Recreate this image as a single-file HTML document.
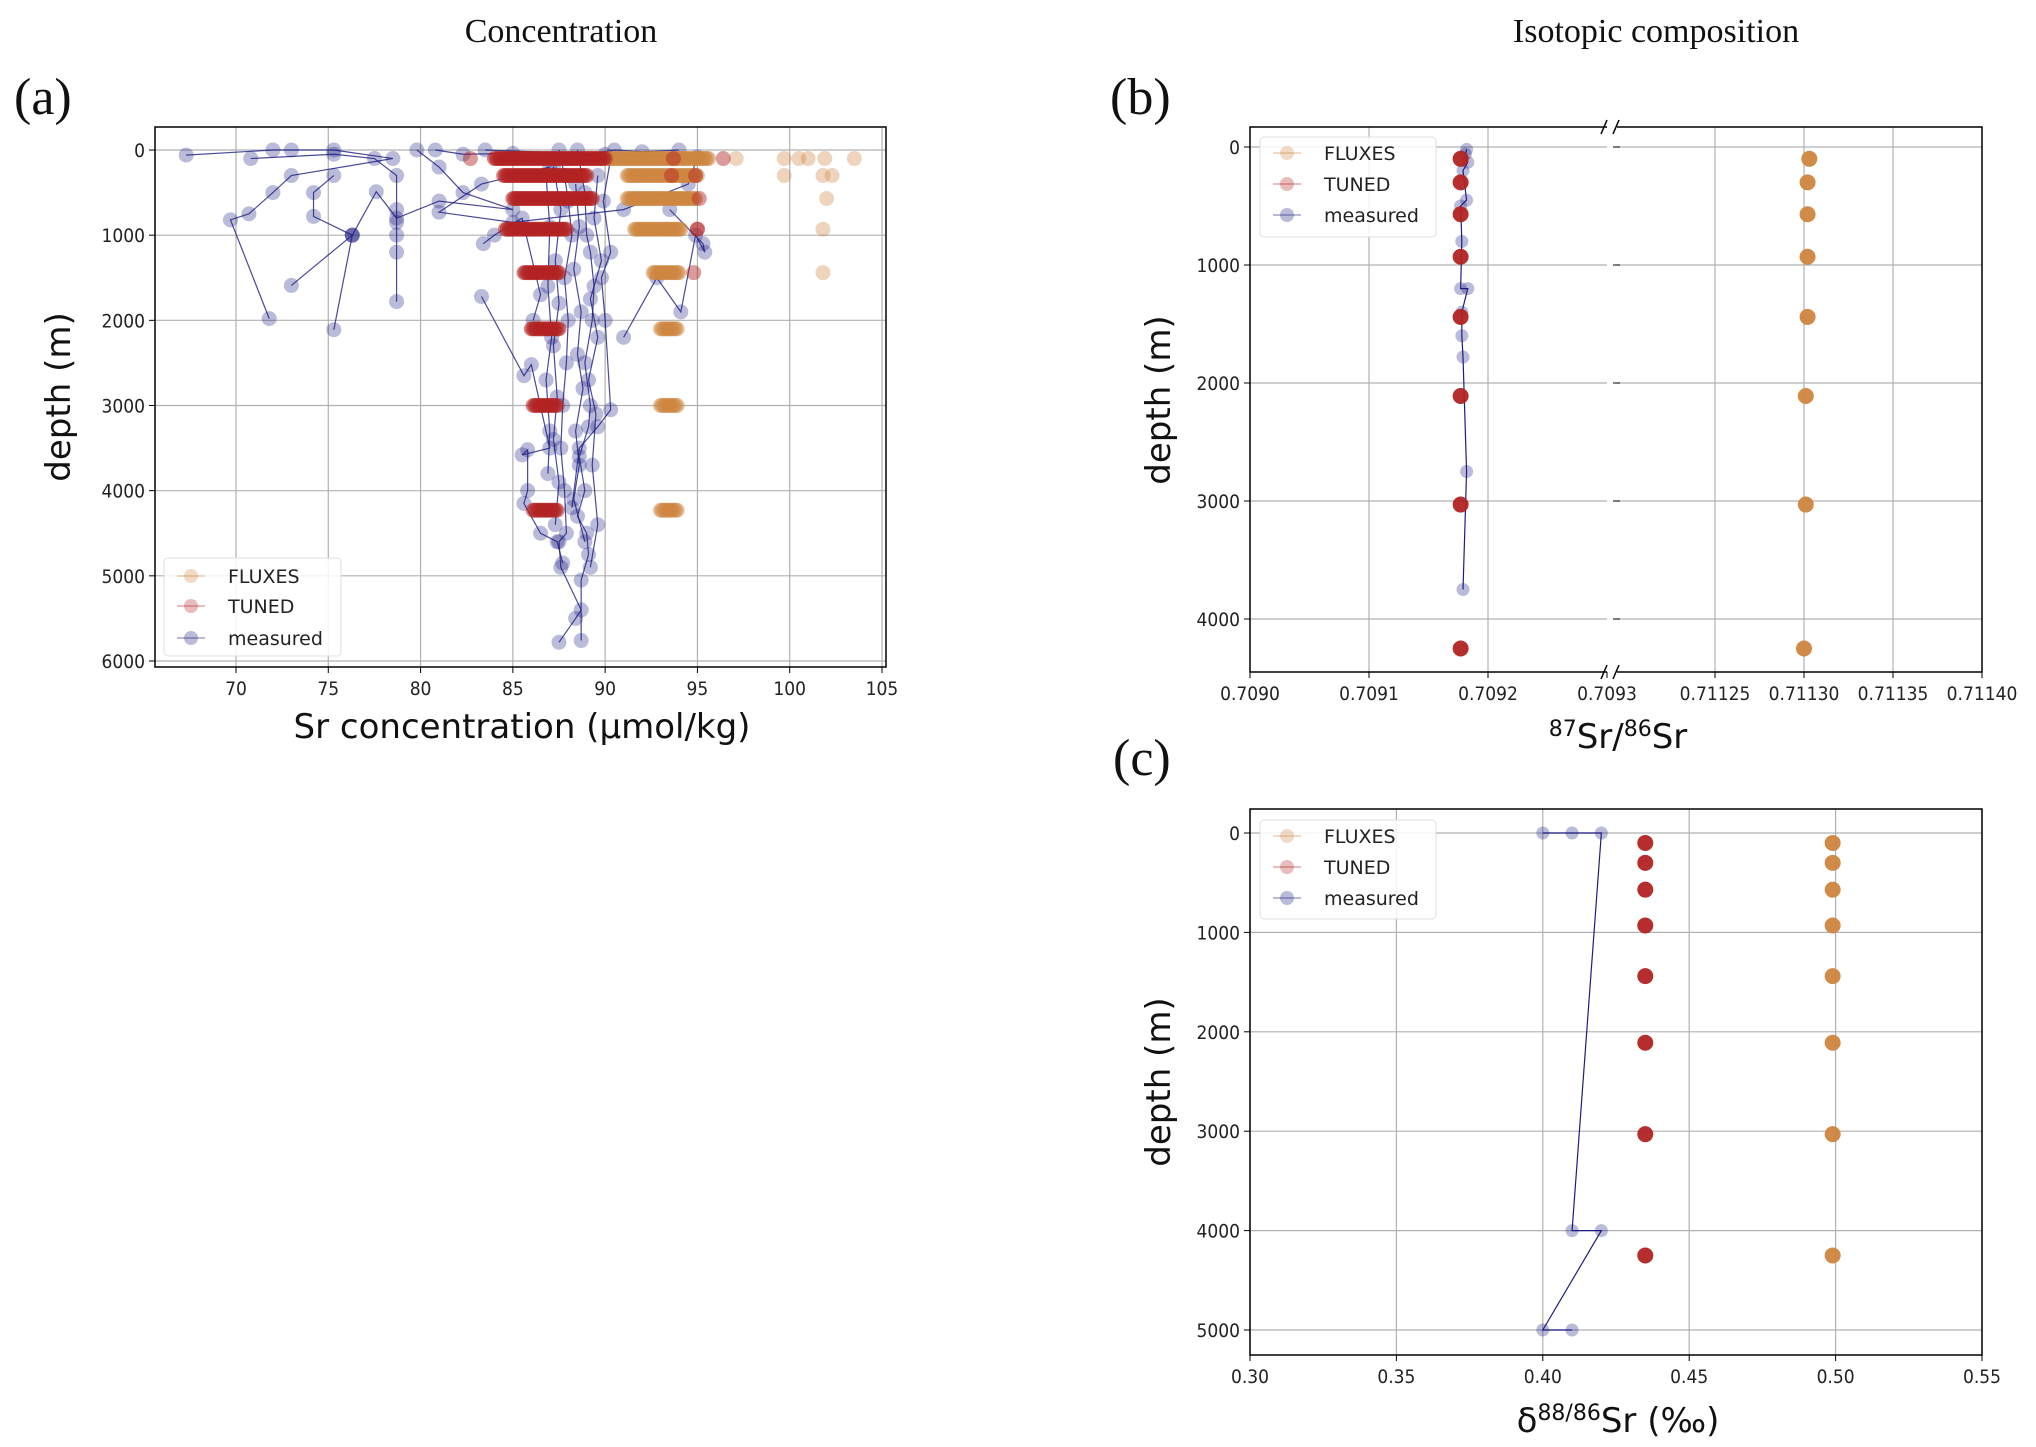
<!DOCTYPE html>
<html><head><meta charset="utf-8"><style>
html,body{margin:0;padding:0;background:#fff;}
svg{display:block;}
.tk{font-family:"DejaVu Sans Condensed","DejaVu Sans","Liberation Sans",sans-serif;font-size:19px;fill:#222;}
.al{font-family:"DejaVu Sans","Liberation Sans",sans-serif;font-size:34px;fill:#111;}
.ti{font-family:"Liberation Serif",serif;font-size:34px;fill:#111;}
.pl{font-family:"Liberation Serif",serif;font-size:52px;fill:#111;}
.lg{font-family:"DejaVu Sans","Liberation Sans",sans-serif;font-size:19px;fill:#222;}
</style></head><body>
<svg id="fig" width="2036" height="1447" viewBox="0 0 2036 1447" xmlns="http://www.w3.org/2000/svg">
<text class="ti" x="561" y="42" text-anchor="middle">Concentration</text>
<text class="ti" x="1656" y="42" text-anchor="middle">Isotopic composition</text>
<text class="pl" x="14" y="114">(a)</text>
<text class="pl" x="1110" y="114">(b)</text>
<text class="pl" x="1113" y="775">(c)</text>
<g id="pa"></g>
<g id="pb"></g>
<g id="pc"></g>
</svg>
<script>
// ---------- Panel (a) data ----------
const bandDepthsA = [100, 300, 570, 930, 1440, 2100, 3000, 4230];
const tunedMinA = [84.0, 84.5, 85.0, 84.6, 85.6, 86.0, 86.1, 86.1];
const tunedMaxA = [90.0, 89.0, 89.3, 87.9, 87.5, 87.5, 87.4, 87.4];
const fluxMinA = [90.2, 91.2, 91.2, 91.6, 92.6, 93.0, 93.0, 93.0];
const fluxMaxA = [95.6, 95.0, 94.9, 94.1, 94.0, 93.9, 93.9, 93.9];
const tunedExtraX = [82.7, 93.7, 96.4, 93.6, 94.9, 95.1, 95.0, 95.0, 94.8];
const tunedExtraD = [100, 100, 100, 300, 300, 570, 930, 930, 1440];
const fluxExtraX = [97.1, 99.7, 100.5, 101.0, 101.9, 103.5, 99.7, 101.8, 102.3, 102.0, 101.8, 101.8];
const fluxExtraD = [100, 100, 100, 100, 100, 100, 300, 300, 300, 570, 930, 1440];
const measuredProfilesA = [
 [[67.3,60],[72,0],[73,0],[75.3,0],[78.5,100],[73,300],[72,500],[70.7,750],[69.7,820],[71.8,1980]],
 [[70.8,100],[75.3,50],[77.5,100],[78.7,300],[78.7,700],[78.7,850],[78.7,1000],[78.7,1200],[78.7,1780]],
 [[75.3,300],[74.2,500],[74.2,780],[76.3,1000],[73,1590]],
 [[76.3,1000],[75.3,2110]],
 [[79.8,0],[81,200],[82.3,500],[85,700],[81,600],[78.7,800],[77.6,490],[76.3,1000]],
 [[83.5,0],[90,50],[95,80],[94.5,400],[91,700],[85,850],[81,730],[83.3,400],[87,200]],
 [[80.8,0],[82.3,50],[85,40],[88,100],[90.5,0],[92,20],[94,0]],
 [[87.5,0],[87.8,300],[88,600],[88.2,1000],[87.8,1500],[88,2000],[87.9,2500],[87.7,3000],[87.6,3500],[87.8,4000],[87.9,4500],[87.5,4600],[87.6,4900],[88.7,5400],[88.4,5500],[87.5,5780]],
 [[88.5,0],[88.9,500],[89,1000],[89.2,1200],[89.4,1600],[89.3,2000],[88.9,2500],[89.2,3000],[89.1,3250],[88.6,3600],[88.9,4000],[88.5,4300],[89,4500],[89.1,4750],[88.7,5050],[88.7,5760]],
 [[90.3,100],[89.9,600],[90.3,1200],[89.8,1500],[90,2000],[90.3,3050],[89.6,3250],[88.6,3500],[88.2,4200]],
 [[83.4,1100],[84,1000],[85.5,800],[86.5,1700],[86.1,2000]],
 [[83.3,1720],[85.6,2650],[86,2520],[87,3500],[85.5,3580],[85.8,3520],[85.8,4000],[85.6,4150],[86.5,4500],[87.4,4600],[87.7,4850]],
 [[93.5,700],[95.3,1100],[95.4,1200],[94.9,1000],[94.1,1900],[92.8,1500],[91,2200]],
 [[87.2,200],[87.6,700],[87.3,1300],[87.5,1800],[87.2,2300],[87.4,2900],[87.2,3400],[87.5,3900],[87.3,4400]],
 [[88.4,400],[88.6,900],[88.3,1400],[88.7,1900],[88.5,2400],[88.8,2800],[88.4,3300],[88.6,3700],[88.3,4100],[88.9,4600]],
 [[89.6,300],[89.4,800],[89.8,1300],[89.2,1750],[89.6,2200],[89.1,2700],[89.5,3100],[89.3,3700],[89.6,4400],[89.2,4900]],
 [[86.8,300],[87,900],[86.9,1600],[87.1,2200],[86.8,2700],[87,3300],[86.9,3800]]
];
// ---------- Panel (b) data ----------
const bandDepthsB = [100, 300, 570, 930, 1440, 2110, 3030, 4250];
const tunedB = [0.709177, 0.709177, 0.709177, 0.709177, 0.709177, 0.709177, 0.709177, 0.709177];
const fluxB = [0.711303, 0.711302, 0.711302, 0.711302, 0.711302, 0.711301, 0.711301, 0.711300];
const measuredBX = [0.709182, 0.709181, 0.709183, 0.709179, 0.709182, 0.709177, 0.709178, 0.709177, 0.709183, 0.709178, 0.709178, 0.709179, 0.709182, 0.709179];
const measuredBD = [20, 60, 130, 200, 450, 500, 800, 1200, 1200, 1400, 1600, 1780, 2750, 3750];
// ---------- Panel (c) data ----------
const tunedC = [0.435, 0.435, 0.435, 0.435, 0.435, 0.435, 0.435, 0.435];
const fluxC = [0.499, 0.499, 0.499, 0.499, 0.499, 0.499, 0.499, 0.499];
const measuredCX = [0.40, 0.41, 0.42, 0.41, 0.42, 0.40, 0.41];
const measuredCD = [0, 0, 0, 4000, 4000, 5000, 5000];

const NS = "http://www.w3.org/2000/svg";
const NAVY = "#1c1c80", RED = "#b22222", ORANGE = "#cd853f";
function mk(parent, tag, attrs) {
  const e = document.createElementNS(NS, tag);
  for (const k in attrs) e.setAttribute(k, attrs[k]);
  parent.appendChild(e);
  return e;
}
function lin(d0, d1, r0, r1) { return v => r0 + (v - d0) / (d1 - d0) * (r1 - r0); }
function dot(g, x, y, color, op, r) {
  const c = mk(g, "circle", {cx: x, cy: y, r: r || 7.5, fill: color, "fill-opacity": op});
  
  
  return c;
}
function legend(g, x0, y0, w, h, ys) {
  const box = mk(g, "rect", {x: x0, y: y0, width: w, height: h, rx: 4, fill: "#fff", "fill-opacity": 0.85, stroke: "#ddd"});
  
  
  const items = [["FLUXES", ORANGE, "fluxes"], ["TUNED", RED, "tuned"], ["measured", NAVY, "measured"]];
  items.forEach((it, i) => {
    const lg = mk(g, "g", {});
    
    
    mk(lg, "line", {x1: x0 + 13, x2: x0 + 41, y1: ys[i], y2: ys[i], stroke: it[1], "stroke-opacity": 0.4, "stroke-width": 1.5});
    mk(lg, "circle", {cx: x0 + 27, cy: ys[i], r: 7, fill: it[1], "fill-opacity": 0.3});
    const t = mk(lg, "text", {x: x0 + 64, y: ys[i] + 7, class: "lg"});
    t.textContent = it[0];
  });
}
function yAxisLabel(g, x, y) {
  const t = mk(g, "text", {class: "al", x: x, y: y, "text-anchor": "middle", transform: `rotate(-90 ${x} ${y})`});
  t.textContent = "depth (m)";
  
  
}

// ================= Panel A =================
(function () {
  const g = document.getElementById("pa");
  const L = 155, R = 886, T = 127, B = 667;
  const X = lin(70, 105, 236, 882), Y = lin(0, 6000, 150, 661);
  const xt = [70, 75, 80, 85, 90, 95, 100, 105], yt = [0, 1000, 2000, 3000, 4000, 5000, 6000];
  const grid = mk(g, "g", {stroke: "#b0b0b0", "stroke-width": 1.2});
  
  
  xt.forEach(v => mk(grid, "line", {x1: X(v), x2: X(v), y1: T, y2: B}));
  yt.forEach(v => mk(grid, "line", {x1: L, x2: R, y1: Y(v), y2: Y(v)}));
  xt.forEach(v => {
    mk(g, "line", {x1: X(v), x2: X(v), y1: B, y2: B + 6, stroke: "#000"});
    const t = mk(g, "text", {class: "tk", x: X(v), y: B + 28, "text-anchor": "middle"}); t.textContent = v;
  });
  yt.forEach(v => {
    mk(g, "line", {x1: L - 6, x2: L, y1: Y(v), y2: Y(v), stroke: "#000"});
    const t = mk(g, "text", {class: "tk", x: L - 10, y: Y(v) + 7, "text-anchor": "end"}); t.textContent = v;
  });
  const mg = mk(g, "g", {});
  
  
  measuredProfilesA.forEach(p => {
    const pl = mk(mg, "polyline", {points: p.map(q => X(q[0]) + "," + Y(q[1])).join(" "), fill: "none", stroke: NAVY, "stroke-width": 1.2, "stroke-opacity": 0.8});
    
    
    p.forEach(q => dot(mg, X(q[0]), Y(q[1]), NAVY, 0.3));
  });
  const fg = mk(g, "g", {});
  
  
  fluxExtraX.forEach((v, i) => dot(fg, X(v), Y(fluxExtraD[i]), ORANGE, 0.35));
  bandDepthsA.forEach((d, i) => {
    for (let v = fluxMinA[i]; v <= fluxMaxA[i] + 1e-9; v += 0.1) dot(fg, X(v), Y(d), ORANGE, 0.5);
  });
  const tg = mk(g, "g", {});
  
  
  bandDepthsA.forEach((d, i) => {
    for (let v = tunedMinA[i]; v <= tunedMaxA[i] + 1e-9; v += 0.1) dot(tg, X(v), Y(d), RED, 0.55);
  });
  tunedExtraX.forEach((v, i) => dot(tg, X(v), Y(tunedExtraD[i]), RED, 0.45));
  mk(g, "rect", {x: L, y: T, width: R - L, height: B - T, fill: "none", stroke: "#000", "stroke-width": 1.5});
  legend(g, 164, 558, 177, 98, [576, 606, 638]);
  const xl = mk(g, "text", {class: "al", x: 522, y: 738, "text-anchor": "middle"});
  xl.textContent = "Sr concentration (\u03bcmol/kg)";
  
  
  yAxisLabel(g, 70, 397);
})();

// ================= Panel B =================
(function () {
  const g = document.getElementById("pb");
  const L = 1250, R = 1982, T = 127, B = 672, BL = 1607, BR = 1617;
  const XL = lin(0.7090, 0.7093, 1250, 1607), XR = lin(0.71125, 0.71140, 1715, 1982);
  const Y = lin(0, 4000, 147, 619);
  const xtl = [0.7090, 0.7091, 0.7092, 0.7093], xtr = [0.71125, 0.71130, 0.71135, 0.71140], yt = [0, 1000, 2000, 3000, 4000];
  const grid = mk(g, "g", {stroke: "#b0b0b0", "stroke-width": 1.2});
  
  
  xtl.slice(1, 3).forEach(v => mk(grid, "line", {x1: XL(v), x2: XL(v), y1: T, y2: B}));
  xtr.slice(0, 3).forEach(v => mk(grid, "line", {x1: XR(v), x2: XR(v), y1: T, y2: B}));
  yt.forEach(v => { mk(grid, "line", {x1: L, x2: BL, y1: Y(v), y2: Y(v)}); mk(grid, "line", {x1: BR, x2: R, y1: Y(v), y2: Y(v)}); });
  xtl.forEach(v => {
    mk(g, "line", {x1: XL(v), x2: XL(v), y1: B, y2: B + 6, stroke: "#000"});
    const t = mk(g, "text", {class: "tk", x: XL(v), y: B + 28, "text-anchor": "middle"}); t.textContent = v.toFixed(4);
  });
  xtr.forEach(v => {
    mk(g, "line", {x1: XR(v), x2: XR(v), y1: B, y2: B + 6, stroke: "#000"});
    const t = mk(g, "text", {class: "tk", x: XR(v), y: B + 28, "text-anchor": "middle"}); t.textContent = v.toFixed(5);
  });
  yt.forEach(v => {
    mk(g, "line", {x1: L - 6, x2: L, y1: Y(v), y2: Y(v), stroke: "#000"});
    mk(g, "line", {x1: BR - 4, x2: BR + 3, y1: Y(v), y2: Y(v), stroke: "#000"});
    const t = mk(g, "text", {class: "tk", x: L - 10, y: Y(v) + 7, "text-anchor": "end"}); t.textContent = v;
  });
  const mg = mk(g, "g", {});
  
  
  const mline = mk(mg, "polyline", {points: measuredBX.map((v, i) => XL(v) + "," + Y(measuredBD[i])).join(" "), fill: "none", stroke: NAVY, "stroke-width": 1.2});
  
  
  measuredBX.forEach((v, i) => dot(mg, XL(v), Y(measuredBD[i]), NAVY, 0.3, 6.5));
  const tg = mk(g, "g", {});
  
  
  tunedB.forEach((v, i) => dot(tg, XL(v), Y(bandDepthsB[i]), RED, 0.95, 8));
  const fg = mk(g, "g", {});
  
  
  fluxB.forEach((v, i) => dot(fg, XR(v), Y(bandDepthsB[i]), ORANGE, 0.95, 8));
  const sp = {stroke: "#000", "stroke-width": 1.5, fill: "none"};
  mk(g, "polyline", Object.assign({points: `${BL},${T} ${L},${T} ${L},${B} ${BL},${B}`}, sp));
  mk(g, "polyline", Object.assign({points: `${BR},${T} ${R},${T} ${R},${B} ${BR},${B}`}, sp));
  [T, B].forEach(y => {
    mk(g, "line", {x1: BL - 6, y1: y + 7, x2: BL, y2: y - 7, stroke: "#000", "stroke-width": 1.5});
    mk(g, "line", {x1: BR - 4, y1: y + 7, x2: BR + 2, y2: y - 7, stroke: "#000", "stroke-width": 1.5});
  });
  legend(g, 1260, 137, 176, 100, [153, 184, 215]);
  const xl = mk(g, "text", {class: "al", x: 1618, y: 748, "text-anchor": "middle"});
  xl.innerHTML = '<tspan font-size="22" dy="-12">87</tspan><tspan dy="12">Sr/</tspan><tspan font-size="22" dy="-12">86</tspan><tspan dy="12">Sr</tspan>';
  
  
  yAxisLabel(g, 1170, 400);
})();

// ================= Panel C =================
(function () {
  const g = document.getElementById("pc");
  const L = 1250, R = 1982, T = 809, B = 1355;
  const X = lin(0.30, 0.55, 1250, 1982), Y = lin(0, 5000, 833, 1330);
  const xt = [0.30, 0.35, 0.40, 0.45, 0.50, 0.55], yt = [0, 1000, 2000, 3000, 4000, 5000];
  const grid = mk(g, "g", {stroke: "#b0b0b0", "stroke-width": 1.2});
  
  
  xt.forEach(v => mk(grid, "line", {x1: X(v), x2: X(v), y1: T, y2: B}));
  yt.forEach(v => mk(grid, "line", {x1: L, x2: R, y1: Y(v), y2: Y(v)}));
  xt.forEach(v => {
    mk(g, "line", {x1: X(v), x2: X(v), y1: B, y2: B + 6, stroke: "#000"});
    const t = mk(g, "text", {class: "tk", x: X(v), y: B + 28, "text-anchor": "middle"}); t.textContent = v.toFixed(2);
  });
  yt.forEach(v => {
    mk(g, "line", {x1: L - 6, x2: L, y1: Y(v), y2: Y(v), stroke: "#000"});
    const t = mk(g, "text", {class: "tk", x: L - 10, y: Y(v) + 7, "text-anchor": "end"}); t.textContent = v;
  });
  const mg = mk(g, "g", {});
  
  
  const ml = mk(mg, "polyline", {points: measuredCX.map((v, i) => X(v) + "," + Y(measuredCD[i])).join(" "), fill: "none", stroke: NAVY, "stroke-width": 1.2});
  
  
  measuredCX.forEach((v, i) => dot(mg, X(v), Y(measuredCD[i]), NAVY, 0.3, 6.5));
  const tg = mk(g, "g", {});
  
  
  tunedC.forEach((v, i) => dot(tg, X(v), Y(bandDepthsB[i]), RED, 0.95, 8));
  const fg = mk(g, "g", {});
  
  
  fluxC.forEach((v, i) => dot(fg, X(v), Y(bandDepthsB[i]), ORANGE, 0.95, 8));
  mk(g, "rect", {x: L, y: T, width: R - L, height: B - T, fill: "none", stroke: "#000", "stroke-width": 1.5});
  legend(g, 1260, 820, 176, 99, [836, 867, 898]);
  const xl = mk(g, "text", {class: "al", x: 1618, y: 1432, "text-anchor": "middle"});
  xl.innerHTML = '\u03b4<tspan font-size="22" dy="-12">88/86</tspan><tspan dy="12">Sr (\u2030)</tspan>';
  
  
  yAxisLabel(g, 1170, 1082);
})();
</script>
</body></html>
